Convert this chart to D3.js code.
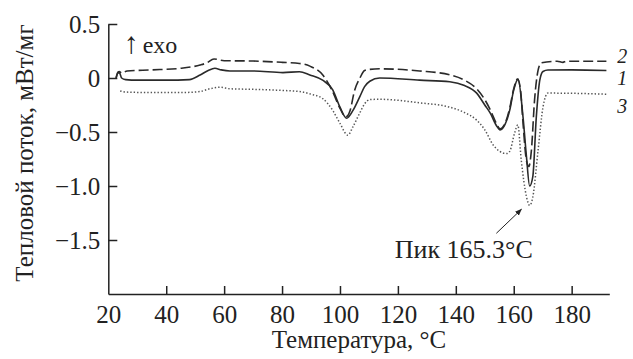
<!DOCTYPE html>
<html><head><meta charset="utf-8">
<script src="https://cdn.jsdelivr.net/npm/d3@7"></script>
<style>
html,body{margin:0;padding:0;background:#fff;}
</style></head>
<body>
<svg id="chart" width="633" height="359"></svg>
<script>
// ---- data ----
const xTicks = [20, 40, 60, 80, 100, 120, 140, 160, 180];
const yTicks = [0.5, 0, -0.5, -1.0, -1.5];
const yTickLabels = ["0.5", "0", "\u22120.5", "\u22121.0", "\u22121.5"];

const t1 = [22.7,23.3,23.8,24.6,26,30,40,48,51.7,54.5,56.8,59,62,70,80.3,86,89.6,94,97.5,100,102.3,104.5,106.9,108.5,110.3,113.7,127.5,137.9,143,147.2,150,152,154,155.3,157,158.6,160,161.5,163.2,164.4,165.5,166.6,167.8,169,170.1,171.8,180,192];
const v1 = [0.0,0.045,0.05,0.0,-0.015,-0.02,-0.02,-0.015,0.028,0.07,0.09,0.075,0.065,0.065,0.05,0.058,0.028,-0.02,-0.11,-0.27,-0.373,-0.3,-0.17,-0.08,-0.03,0.0,-0.02,-0.035,-0.07,-0.14,-0.25,-0.33,-0.44,-0.48,-0.43,-0.3,-0.11,-0.01,-0.36,-0.73,-1.0,-0.91,-0.36,-0.02,0.06,0.074,0.075,0.07];

const t2 = [22.7,23.3,23.8,24.6,26.5,35,45,51.7,54,56.5,60,70,80,86,89.6,94,97,100,102,103.5,105,106.9,108.5,110.3,113.7,127.5,137.9,143,147.2,150,152,154,155.3,157,158.6,160,161.3,162.3,163.3,164.3,165.2,166.1,167.2,168.4,169.5,175,177,178,192];
const v2 = [0.0,0.055,0.06,0.045,0.065,0.075,0.09,0.12,0.14,0.176,0.16,0.157,0.145,0.135,0.11,0.03,-0.1,-0.28,-0.36,-0.3,-0.12,0.0,0.07,0.08,0.085,0.065,0.03,-0.02,-0.1,-0.2,-0.3,-0.42,-0.47,-0.42,-0.28,-0.1,-0.01,-0.1,-0.45,-0.75,-0.82,-0.67,-0.2,0.07,0.14,0.155,0.145,0.155,0.155];

const t3 = [24.1,26,35,45,51.7,55,58.6,62,70,80,86,90,94,97.5,100,102.7,104.5,106.9,108.5,110.3,113.7,127.5,137.9,143,147.2,150,152.9,155.2,157.5,158.6,160.3,161.4,162.6,164.4,165.5,166.6,168.4,170.1,171.8,173.6,192];
const v3 = [-0.12,-0.13,-0.135,-0.135,-0.125,-0.1,-0.086,-0.1,-0.105,-0.115,-0.125,-0.15,-0.19,-0.3,-0.42,-0.53,-0.45,-0.32,-0.24,-0.2,-0.197,-0.23,-0.27,-0.32,-0.39,-0.48,-0.62,-0.68,-0.70,-0.68,-0.51,-0.435,-0.76,-1.1,-1.18,-1.1,-0.67,-0.27,-0.14,-0.14,-0.15];

const seriesNames = ["1", "2", "3"];
const seriesLabelV = [-0.005, 0.2, -0.265];

// ---- layout ----
const FONT = "'Liberation Serif', Tinos, 'DejaVu Serif', serif";
const svg = d3.select("#chart");
const x = d3.scaleLinear().domain([20, 193]).range([108.3, 609.3]);
const y = d3.scaleLinear().domain([-2.0, 0.5]).range([294, 24]);

const line = d3.line().x(d => x(d[0])).y(d => y(d[1])).curve(d3.curveMonotoneX);

const series = [
  {t: t1, v: v1, dash: null, color: "#2a2a2a", w: 1.6},
  {t: t2, v: v2, dash: "10,4", color: "#2a2a2a", w: 1.6},
  {t: t3, v: v3, dash: "1.4,2", color: "#555", w: 1.5}
];
series.forEach(s => {
  svg.append("path")
    .datum(s.t.map((d, i) => [d, s.v[i]]))
    .attr("d", line)
    .attr("fill", "none")
    .attr("stroke", s.color)
    .attr("stroke-width", s.w)
    .attr("stroke-dasharray", s.dash);
});

// axes
const fs = 25;
const yAxis = d3.axisLeft(y).tickValues(yTicks)
  .tickFormat((d, i) => yTickLabels[i]).tickSize(-9).tickSizeOuter(0).tickPadding(8);
const gy = svg.append("g").attr("transform", `translate(${x.range()[0]},0)`).call(yAxis);
const xAxis = d3.axisBottom(x).tickValues(xTicks).tickFormat(d3.format("d"))
  .tickSize(-8).tickSizeOuter(0).tickPadding(11);
const gx = svg.append("g").attr("transform", `translate(0,${y.range()[0]})`).call(xAxis);
[gx, gy].forEach(g => {
  g.attr("font-family", FONT).attr("font-size", fs);
  g.selectAll("path.domain").attr("stroke", "#222").attr("stroke-width", 1.5);
  g.selectAll(".tick line").attr("stroke", "#222").attr("stroke-width", 1.5);
  g.selectAll("text").attr("fill", "#222");
});
gx.selectAll(".tick").filter(d => d === 20).select("line").remove();

const txt = svg.append("g").attr("font-family", FONT).attr("fill", "#222");

// axis titles
txt.append("text").attr("x", 359).attr("y", 348).attr("text-anchor", "middle")
  .attr("font-size", fs).text("Температура, °C");
txt.append("text").attr("transform", "translate(33,153) rotate(-90)").attr("text-anchor", "middle")
  .attr("font-size", fs).text("Тепловой поток, мВт/мг");

// exo label
const exo = txt.append("text").attr("x", x(25.3)).attr("y", y(0.234)).attr("font-size", fs - 1);
exo.append("tspan").attr("font-size", 30).attr("fill", "#222").text("\u2191");
exo.append("tspan").attr("dx", 4).text("exo");

// series labels
seriesNames.forEach((n, i) => {
  txt.append("text").attr("x", x.range()[1] + 8).attr("y", y(seriesLabelV[i]))
    .attr("dy", "0.33em").attr("font-size", 20).attr("font-style", "italic").text(n);
});

// peak annotation
const defs = svg.append("defs");
defs.append("marker").attr("id", "arr").attr("viewBox", "0 0 10 10")
  .attr("refX", 9).attr("refY", 5).attr("markerWidth", 7).attr("markerHeight", 7)
  .attr("orient", "auto").append("path").attr("d", "M0,1 L10,5 L0,9 Z").attr("fill", "#222");
svg.append("line")
  .attr("x1", x(154.0)).attr("y1", y(-1.438))
  .attr("x2", x(162.65)).attr("y2", y(-1.216))
  .attr("stroke", "#222").attr("stroke-width", 1).attr("marker-end", "url(#arr)");
txt.append("text").attr("x", x(118.9)).attr("y", y(-1.667))
  .attr("font-size", 26).text("Пик 165.3°C");
</script>
</body></html>
